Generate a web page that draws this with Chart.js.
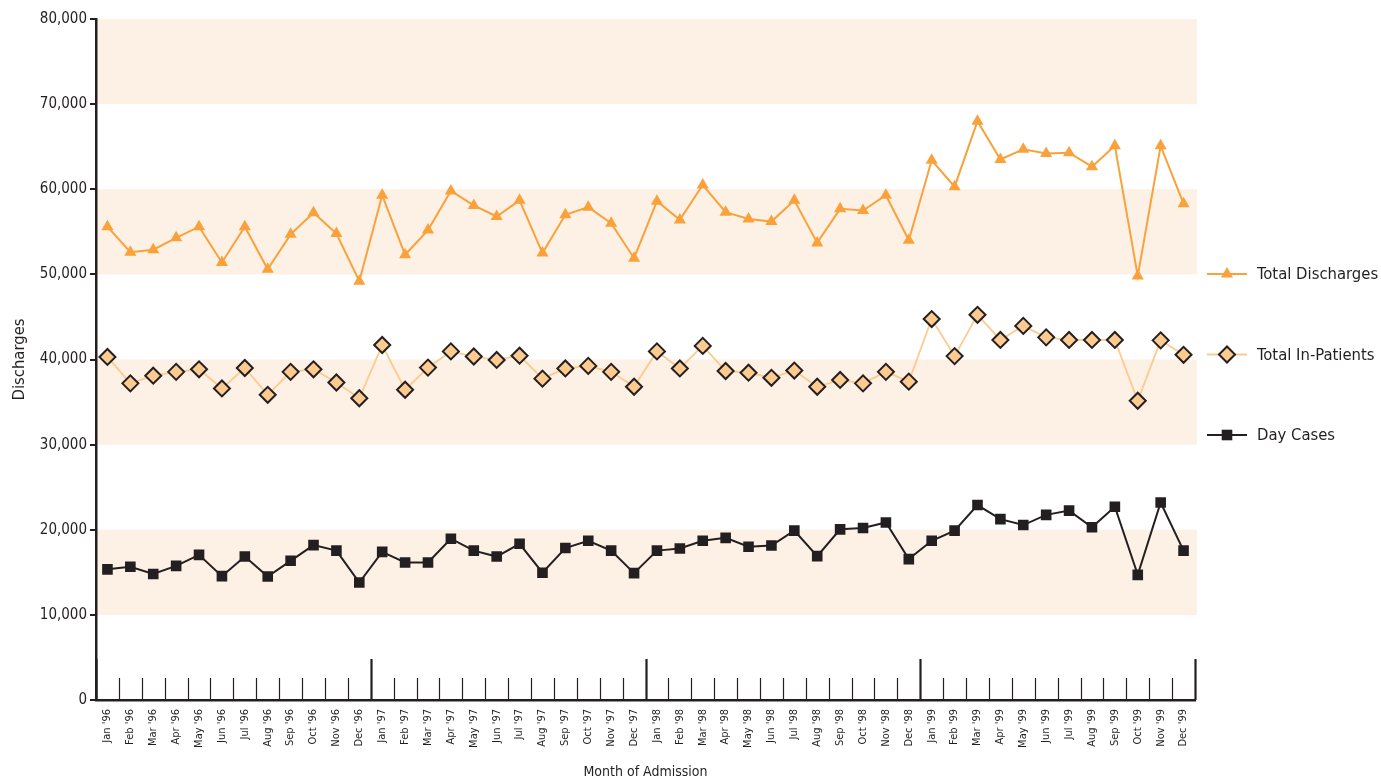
<!DOCTYPE html>
<html>
<head>
<meta charset="utf-8">
<script src="https://cdn.jsdelivr.net/npm/chart.js"></script>
<style>
  body { margin: 0; background: #fff; }
  #wrap { width: 1381px; height: 784px; }
</style>
</head>
<body>
<div id="wrap"><canvas id="dischargesChart" width="1381" height="784"></canvas></div>
<script>
const months = ['Jan', 'Feb', 'Mar', 'Apr', 'May', 'Jun', 'Jul', 'Aug', 'Sep', 'Oct', 'Nov', 'Dec'];
const years = ["'96", "'97", "'98", "'99"];
const labels = [];
years.forEach(y => months.forEach(m => labels.push(m + ' ' + y)));

const totalDischarges = [
    55600, 52600, 52900, 54300, 55600, 51400, 55600, 50600, 54700, 57250, 54800, 49200,
    59300, 52300, 55200, 59800, 58100, 56800, 58700, 52500, 57000, 57900, 56000, 51900,
    58600, 56400, 60500, 57300, 56500, 56200, 58700, 53700, 57700, 57500, 59300, 54000,
    63400, 60300, 68000, 63500, 64700, 64200, 64300, 62650, 65100, 49800, 65100, 58300
];
const totalInPatients = [
    40300, 37200, 38100, 38550, 38850, 36600, 39000, 35850, 38550, 38850, 37300, 35450,
    41700, 36450, 39050, 40950, 40350, 39950, 40450, 37750, 38950, 39250, 38550, 36800,
    40950, 38950, 41600, 38650, 38450, 37850, 38700, 36800, 37600, 37200, 38550, 37400,
    44750, 40400, 45250, 42300, 43950, 42600, 42300, 42300, 42300, 35150, 42250, 40550
];
const dayCases = [
    15350, 15650, 14800, 15750, 17050, 14550, 16850, 14500, 16350, 18200, 17550, 13800,
    17400, 16150, 16150, 18950, 17550, 16850, 18350, 14950, 17850, 18700, 17550, 14900,
    17550, 17800, 18700, 19050, 18000, 18150, 19900, 16900, 20050, 20200, 20850, 16550,
    18700, 19900, 22900, 21250, 20550, 21750, 22250, 20300, 22700, 14700, 23200, 17550
];
// shaded horizontal bands behind the lines
const bandRanges = [[10000, 20000], [30000, 40000], [50000, 60000], [70000, 80000]];

const ink = '#231f20';
const orange = '#f9a23c';
const peach = '#fdca8f';
const bandColor = '#fdf0e4';
const fontFamily = "'Liberation Sans Narrow', 'DejaVu Sans Condensed', 'Liberation Sans', sans-serif";

const bandsPlugin = {
    id: 'bands',
    beforeDraw(chart) {
        const { ctx, chartArea, scales } = chart;
        ctx.save();
        ctx.fillStyle = bandColor;
        bandRanges.forEach(([lo, hi]) => {
            const top = scales.y.getPixelForValue(hi);
            const bottom = scales.y.getPixelForValue(lo);
            ctx.fillRect(chartArea.left, top, chartArea.right - chartArea.left + 2, bottom - top);
        });
        ctx.restore();
    }
};

// month separators standing up from the x axis, taller at year boundaries
const monthTicksPlugin = {
    id: 'monthTicks',
    afterDatasetsDraw(chart) {
        const { ctx, scales } = chart;
        const x = scales.x;
        const base = scales.y.getPixelForValue(0);
        const step = (x.right - x.left) / labels.length;
        ctx.save();
        ctx.strokeStyle = ink;
        for (let i = 0; i <= labels.length; i++) {
            const major = i % 12 === 0;
            const px = Math.round(x.left + i * step) + 0.5;
            ctx.lineWidth = major ? 2.2 : 1.2;
            ctx.beginPath();
            ctx.moveTo(px, base);
            ctx.lineTo(px, base - (major ? 41 : 22));
            ctx.stroke();
        }
        ctx.restore();
    }
};

// legend at the right: line sample with marker, then the series name
const sideLegendPlugin = {
    id: 'sideLegend',
    afterDraw(chart) {
        const { ctx, chartArea } = chart;
        const mid = (chartArea.top + chartArea.bottom) / 2 - 5;
        const order = [2, 1, 0];
        ctx.save();
        order.forEach((dsIndex, row) => {
            const ds = chart.data.datasets[dsIndex];
            const y = mid + (row - 1) * 80.5;
            const x0 = chartArea.right + 12;
            ctx.strokeStyle = ds.borderColor;
            ctx.lineWidth = ds.borderWidth;
            ctx.beginPath();
            ctx.moveTo(x0, y);
            ctx.lineTo(x0 + 40, y);
            ctx.stroke();
            ctx.fillStyle = ds.pointBackgroundColor;
            ctx.strokeStyle = ds.pointBorderColor;
            ctx.lineWidth = ds.pointBorderWidth;
            Chart.helpers.drawPoint(ctx, {
                pointStyle: ds.pointStyle,
                radius: ds.pointRadius,
                rotation: 0,
                borderWidth: ds.pointBorderWidth
            }, x0 + 20, y);
            ctx.fillStyle = ink;
            ctx.font = '16.5px ' + fontFamily;
            ctx.textBaseline = 'middle';
            ctx.textAlign = 'left';
            ctx.fillText(ds.label, x0 + 50, y + 1);
        });
        ctx.restore();
    }
};

const ctx = document.getElementById('dischargesChart').getContext('2d');
new Chart(ctx, {
    type: 'line',
    data: {
        labels: labels,
        datasets: [
            {
                label: 'Day Cases',
                data: dayCases,
                borderColor: ink,
                borderWidth: 2,
                pointStyle: 'rect',
                pointRadius: 7.5,
                pointBackgroundColor: ink,
                pointBorderColor: ink,
                pointBorderWidth: 0,
                tension: 0
            },
            {
                label: 'Total In-Patients',
                data: totalInPatients,
                borderColor: peach,
                borderWidth: 1.8,
                pointStyle: 'rectRot',
                pointRadius: 8,
                pointBackgroundColor: peach,
                pointBorderColor: ink,
                pointBorderWidth: 2,
                tension: 0
            },
            {
                label: 'Total Discharges',
                data: totalDischarges,
                borderColor: orange,
                borderWidth: 2,
                pointStyle: 'triangle',
                pointRadius: 7,
                pointBackgroundColor: orange,
                pointBorderColor: orange,
                pointBorderWidth: 0,
                tension: 0
            }
        ]
    },
    options: {
        responsive: false,
        animation: false,
        layout: { padding: { left: 0, right: 186, top: 19, bottom: 0 } },
        plugins: {
            legend: { display: false },
            tooltip: { enabled: false }
        },
        scales: {
            x: {
                offset: true,
                grid: { display: false },
                border: { display: true, color: ink, width: 2.5 },
                ticks: {
                    color: ink,
                    font: { family: fontFamily, size: 11 },
                    minRotation: 90,
                    maxRotation: 90,
                    autoSkip: false,
                    padding: 1
                },
                title: {
                    display: true,
                    text: 'Month of Admission',
                    color: ink,
                    font: { family: fontFamily, size: 14 },
                    padding: { top: 0, bottom: 3 }
                },
                afterFit(scale) { scale.height = 84; }
            },
            y: {
                min: 0,
                max: 80000,
                grid: { display: true, drawOnChartArea: false, tickLength: 6, color: ink, lineWidth: 2 },
                border: { display: true, color: ink, width: 2.5 },
                ticks: {
                    stepSize: 10000,
                    color: ink,
                    padding: 3,
                    font: { family: fontFamily, size: 15 },
                    callback: v => v.toLocaleString('en-US')
                },
                title: {
                    display: true,
                    text: 'Discharges',
                    color: ink,
                    font: { family: fontFamily, size: 16.5 },
                    padding: { top: 10, bottom: 0 }
                },
                afterFit(scale) { scale.width = 96; }
            }
        }
    },
    plugins: [bandsPlugin, monthTicksPlugin, sideLegendPlugin]
});
</script>
</body>
</html>
